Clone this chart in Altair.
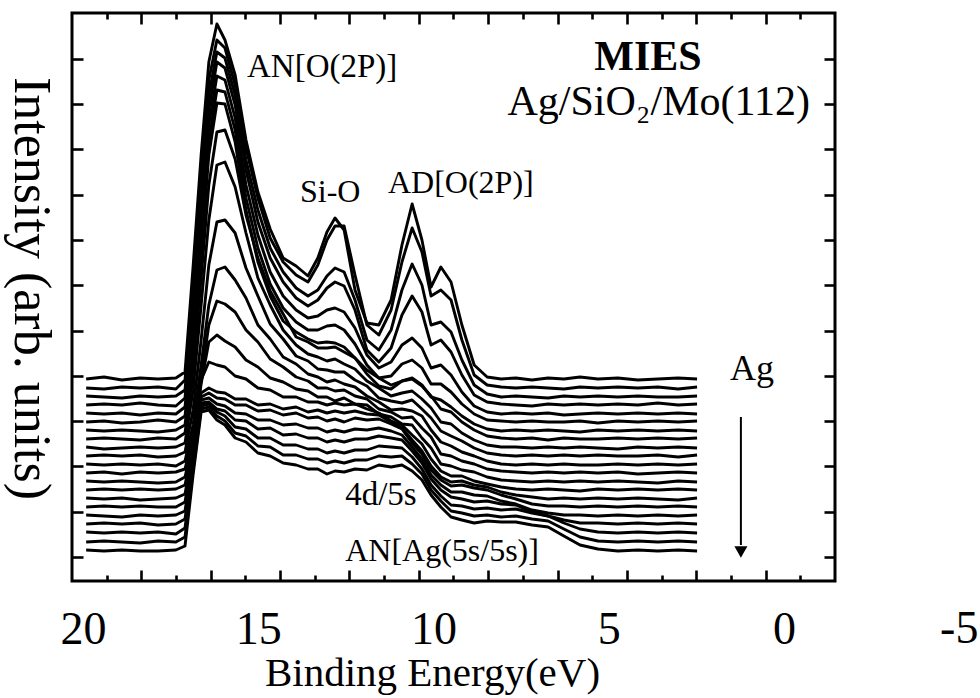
import altair as alt
import pandas as pd

# ---------------- data ----------------
# binding energy grid shared by all spectra (eV)
energy = [19.91, 19.40, 18.89, 18.37, 17.86, 17.35, 17.09, 16.86, 16.63, 16.41, 16.18, 15.95,
          15.66, 15.35, 15.01, 14.66, 14.29, 13.92, 13.58, 13.30, 13.04, 12.81, 12.55, 12.24,
          11.90, 11.56, 11.21, 10.90, 10.61, 10.33, 10.07, 9.79, 9.50, 9.19, 8.84, 8.47,
          8.07, 7.65, 7.19, 6.73, 6.28, 5.82, 5.31, 4.74, 4.17, 3.60, 3.02, 2.48]

# vertical offset of each spectrum (top = clean SiO2, bottom = most Ag)
offsets = [202, 193, 184, 176, 167, 159, 150, 142, 133, 125, 116,
           108, 99, 91, 82, 74, 65, 57, 48, 39, 30]

spec00 = [0, 2, -1, 1, 0, 1, 7, 112, 224, 317, 355, 339, 304, 239, 187, 150, 121, 113,
          103, 121, 147, 161, 149, 89, 56, 54, 79, 134, 175, 139, 92, 112, 97, 54, 14, 2,
          0, 1, -1, 1, 0, 2, 0, 1, -1, 0, 1, 0]
spec01 = [0, -1, 1, 0, 1, -1, 8, 103, 213, 308, 348, 340, 303, 240, 190, 150, 126, 113,
          106, 123, 148, 162, 162, 113, 63, 53, 78, 126, 160, 136, 92, 98, 88, 48, 13, 3,
          1, 0, 1, 0, -1, 1, 0, 1, 0, 1, -1, 1]
spec02 = [1, 0, -1, 1, 0, 1, 7, 97, 202, 302, 345, 339, 302, 237, 187, 149, 125, 109,
          101, 107, 121, 129, 125, 97, 57, 47, 67, 107, 133, 112, 72, 75, 65, 37, 12, 3,
          0, 1, 0, -1, 1, 0, 1, 0, 1, 0, 0, 1]
spec03 = [0, 1, 0, 2, 0, -1, 7, 93, 195, 295, 343, 337, 300, 235, 183, 147, 123, 107,
          99, 105, 117, 123, 119, 95, 55, 43, 57, 90, 109, 93, 60, 65, 53, 30, 10, 3,
          1, 0, -1, 1, 0, 1, 0, 1, 0, 2, 0, 1]
spec04 = [1, 0, 1, -1, 1, 0, 7, 89, 189, 289, 338, 334, 296, 229, 179, 142, 118, 104,
          96, 98, 104, 106, 102, 86, 59, 46, 52, 69, 76, 66, 46, 49, 39, 22, 8, 2,
          0, 1, 0, 1, -1, 0, 1, 0, 1, 0, 1, 0]
spec05 = [0, 1, -1, 0, 2, 0, 6, 82, 182, 282, 332, 330, 292, 224, 174, 138, 114, 100,
          92, 92, 96, 97, 92, 78, 57, 44, 46, 58, 62, 54, 38, 38, 30, 18, 8, 2,
          1, 0, 1, 0, 0, 1, -1, 1, 0, 1, 0, 1]
spec06 = [1, 0, 1, 0, -1, 1, 6, 76, 176, 276, 328, 327, 289, 221, 169, 135, 110, 99,
          92, 88, 89, 88, 84, 73, 57, 45, 42, 50, 53, 46, 34, 31, 24, 15, 7, 2,
          0, 1, 0, 1, 0, -1, 1, 0, 1, 0, 1, 0]
spec07 = [0, 1, 0, -1, 1, 0, 6, 67, 161, 254, 307, 309, 280, 224, 181, 148, 125, 102,
          97, 91, 91, 92, 87, 81, 69, 61, 54, 58, 60, 53, 43, 30, 27, 17, 9, 3,
          1, 0, 1, -1, 1, 0, 0, 1, 0, 1, 0, 1]
spec08 = [1, -1, 0, 1, 0, 1, 5, 58, 143, 228, 283, 286, 261, 215, 170, 143, 118, 103,
          94, 91, 87, 89, 84, 79, 67, 60, 52, 55, 57, 49, 40, 26, 24, 15, 8, 3,
          1, 1, 0, 1, 0, 1, 0, -1, 1, 0, 1, 0]
spec09 = [0, 1, 0, 1, -1, 0, 4, 46, 116, 191, 234, 236, 223, 188, 160, 132, 117, 100,
          95, 87, 86, 84, 84, 76, 70, 58, 55, 53, 56, 47, 38, 25, 20, 15, 8, 3,
          1, 0, 1, 0, 1, 0, 1, 0, 0, 1, -1, 1]
spec10 = [1, 0, 1, 0, 1, -1, 4, 40, 100, 160, 195, 198, 185, 167, 140, 126, 108, 101,
          91, 88, 83, 85, 81, 78, 69, 63, 55, 56, 54, 49, 35, 23, 19, 13, 9, 4,
          1, 0, 1, 0, 1, 0, 0, 1, 0, 1, 0, 1]
spec11 = [0, 1, -1, 1, 0, 1, 4, 38, 95, 148, 172, 169, 161, 143, 131, 114, 106, 96,
          92, 85, 85, 82, 83, 77, 74, 64, 61, 55, 56, 45, 36, 19, 17, 12, 9, 4,
          2, 1, 0, 1, 0, 1, 0, 1, -1, 0, 1, 0]
spec12 = [1, 0, 1, 0, -1, 0, 5, 40, 98, 140, 147, 141, 135, 122, 115, 104, 100, 93,
          91, 85, 85, 81, 84, 78, 77, 68, 65, 58, 57, 44, 34, 18, 16, 12, 10, 5,
          2, 1, 0, 1, 0, 1, 0, 1, 0, -1, 1, 0]
spec13 = [0, 1, 0, 1, 0, 1, 5, 45, 110, 128, 125, 123, 114, 111, 102, 100, 93, 93,
          88, 88, 85, 87, 85, 86, 81, 77, 69, 65, 55, 46, 31, 19, 14, 14, 9, 6,
          3, 1, 0, 1, 0, -1, 1, 0, 1, 0, 1, 0]
spec14 = [1, 0, 1, -1, 0, 1, 5, 50, 106, 111, 107, 106, 100, 100, 94, 95, 90, 92,
          87, 89, 86, 88, 86, 88, 85, 84, 77, 71, 59, 48, 33, 22, 17, 18, 14, 12,
          7, 4, 2, 0, 1, 0, 1, 0, 1, 0, -1, 1]
spec15 = [0, 1, 0, 1, 0, 0, 5, 55, 110, 114, 109, 108, 102, 102, 96, 97, 92, 94,
          89, 90, 86, 88, 85, 89, 87, 88, 83, 78, 64, 53, 37, 27, 21, 22, 19, 17,
          12, 8, 3, 1, 1, 0, 1, 0, 1, 0, 1, 0]
spec16 = [1, 0, -1, 1, 0, 1, 5, 60, 116, 118, 112, 110, 103, 102, 96, 96, 91, 92,
          88, 88, 84, 86, 84, 87, 86, 88, 85, 81, 69, 57, 41, 31, 24, 24, 21, 20,
          15, 12, 6, 3, 1, 1, 0, 1, 0, 1, 0, 1]
spec17 = [0, 1, 0, 1, -1, 0, 5, 64, 121, 122, 115, 113, 104, 103, 95, 96, 89, 90,
          86, 86, 82, 84, 82, 85, 85, 88, 86, 84, 73, 61, 45, 34, 27, 25, 22, 23,
          20, 19, 12, 8, 4, 1, 1, 0, 1, 0, 1, 0]
spec18 = [1, 0, 1, 0, 1, -1, 5, 68, 127, 129, 121, 117, 106, 104, 95, 95, 88, 88,
          84, 84, 80, 82, 80, 83, 83, 87, 86, 85, 76, 64, 48, 37, 28, 27, 24, 25,
          23, 24, 20, 17, 10, 4, 1, 0, 1, 0, 1, 0]
spec19 = [0, 1, 0, -1, 1, 0, 5, 72, 133, 135, 126, 121, 109, 106, 96, 95, 87, 87,
          83, 83, 79, 81, 79, 82, 82, 86, 85, 86, 78, 68, 52, 41, 31, 29, 26, 27,
          25, 26, 23, 21, 13, 5, 1, 0, 1, 0, 1, 0]
spec20 = [1, 0, 1, 0, 0, 1, 5, 76, 139, 141, 131, 126, 113, 109, 98, 95, 88, 86,
          82, 82, 77, 80, 79, 82, 81, 86, 84, 86, 80, 71, 56, 44, 34, 31, 28, 30,
          29, 29, 26, 24, 15, 6, 2, 0, 1, 0, 1, 0]

spectra = [spec00, spec01, spec02, spec03, spec04, spec05, spec06, spec07, spec08, spec09,
           spec10, spec11, spec12, spec13, spec14, spec15, spec16, spec17, spec18, spec19,
           spec20]

x_labels = [20, 15, 10, 5, 0]
x_label_outside = [-5]

ann_text = ["AN[O(2P)]", "Si-O", "AD[O(2P)]", "4d/5s", "AN[Ag(5s/5s)]", "Ag"]
ann_x = [15.32, 13.81, 11.30, 12.52, 12.52, 1.54]
ann_y = [504, 379, 388, 76, 20, 201]
ann_size = [33, 32, 32, 33, 32, 36]

title_text = ["MIES", "Ag/SiO\u2082/Mo(112)"]
title_x = [3.88, -0.74]
title_y = [511, 466]

arrow_x = 1.23
arrow_y = [164, 36]
arrow_head_y = 29

# ---------------- frame / scales ----------------
W, H = 763, 568
X_MIN, X_MAX = -1.455, 20.314
Y_MIN, Y_MAX = 0, 568
FONT = "Liberation Serif, Times New Roman, Times, DejaVu Serif, serif"

rows = []
for i, (off, spec) in enumerate(zip(offsets, spectra)):
    for e, v in zip(energy, spec):
        rows.append({"curve": i, "energy": e, "counts": off + v})
df = pd.DataFrame(rows)

xscale = alt.Scale(domain=[X_MIN, X_MAX], reverse=True, nice=False, zero=False)
yscale = alt.Scale(domain=[Y_MIN, Y_MAX], nice=False, zero=False)

# tick positions of the frame (22 equal intervals in x, 45.3-unit steps in y)
xt = [X_MAX - k * (X_MAX - X_MIN) / 22 for k in range(23)]
x_major = [xt[k] for k in range(2, 22, 2)]
x_minor = [xt[k] for k in range(1, 22, 2)]
y_ticks = [24 + 45.3 * k for k in range(12)]

LABEL_SIZE = 46

lines = alt.Chart(df).mark_line(color="black", strokeWidth=2.9, strokeJoin="round").encode(
    x=alt.X("energy:Q", scale=xscale,
            axis=alt.Axis(orient="bottom", values=x_labels, ticks=False, tickSize=0, domain=False,
                          grid=False, labelFont=FONT, labelFontSize=LABEL_SIZE,
                          labelColor="black", labelPadding=62, labelBaseline="alphabetic",
                          labelFlush=False, labelOverlap=False, title="Binding Energy(eV)",
                          titleFont=FONT, titleFontSize=41, titleFontWeight="normal",
                          titleColor="black", titleX=360, titleY=104, titleAlign="center",
                          titleBaseline="alphabetic")),
    y=alt.Y("counts:Q", scale=yscale,
            axis=alt.Axis(orient="left", labels=False, ticks=False, domain=False, grid=False,
                          title="Intensity (arb. units)", titleFont=FONT, titleFontSize=52,
                          titleFontWeight="normal", titleColor="black", titleAngle=90,
                          titleX=-42, titleY=275, titleAlign="center",
                          titleBaseline="middle")),
    detail="curve:N",
)


def tick_axis(vals, orient, offset, size):
    return alt.Axis(orient=orient, values=vals, offset=offset, ticks=True, tickSize=size,
                    tickWidth=2.6, tickColor="black", labels=False, domain=False, grid=False,
                    title=None)


def tick_layer(xaxis, yaxis):
    return alt.Chart(df).mark_point(opacity=0, size=1).encode(
        x=alt.X("energy:Q", scale=xscale, axis=xaxis, title=None),
        y=alt.Y("counts:Q", scale=yscale, axis=yaxis, title=None),
    )


t1 = tick_layer(tick_axis(x_major, "top", -H, 11), tick_axis(y_ticks, "right", -W, 11))
t2 = tick_layer(tick_axis(x_minor, "top", -H, 6), tick_axis(y_ticks, "left", -W, 11))
t3 = tick_layer(tick_axis(x_major, "bottom", -H, 11), None)
t4 = tick_layer(tick_axis(x_minor, "bottom", -H, 6), None)

# the "-5" tick label sits beyond the right end of the frame in the original
out_df = pd.DataFrame({"x": x_label_outside, "y": [-62] * len(x_label_outside),
                       "t": [str(v) for v in x_label_outside]})
out_label = alt.Chart(out_df).mark_text(font=FONT, fontSize=LABEL_SIZE, align="center",
                                        baseline="alphabetic", color="black").encode(
    x=alt.X("x:Q", scale=xscale, axis=None),
    y=alt.Y("y:Q", scale=yscale, axis=None),
    text="t:N",
)

ann_df = pd.DataFrame({"t": ann_text, "x": ann_x, "y": ann_y, "s": ann_size})
ann = alt.Chart(ann_df).mark_text(font=FONT, align="left", baseline="alphabetic",
                                  color="black").encode(
    x=alt.X("x:Q", scale=xscale, axis=None),
    y=alt.Y("y:Q", scale=yscale, axis=None),
    text="t:N",
    size=alt.Size("s:Q", scale=None),
)

ttl_df = pd.DataFrame({"t": title_text, "x": title_x, "y": title_y})
mies = alt.Chart(ttl_df.iloc[[0]]).mark_text(font=FONT, fontWeight="bold", fontSize=42,
                                              align="center", baseline="alphabetic",
                                              color="black").encode(
    x=alt.X("x:Q", scale=xscale, axis=None),
    y=alt.Y("y:Q", scale=yscale, axis=None),
    text="t:N",
)
sample = alt.Chart(ttl_df.iloc[[1]]).mark_text(font=FONT, fontSize=42, align="right",
                                                baseline="alphabetic", color="black").encode(
    x=alt.X("x:Q", scale=xscale, axis=None),
    y=alt.Y("y:Q", scale=yscale, axis=None),
    text="t:N",
)

arrow_df = pd.DataFrame({"x": [arrow_x], "y": [arrow_y[0]], "y2": [arrow_y[1]],
                         "yh": [arrow_head_y]})
shaft = alt.Chart(arrow_df).mark_rule(color="black", strokeWidth=2).encode(
    x=alt.X("x:Q", scale=xscale, axis=None),
    y=alt.Y("y:Q", scale=yscale, axis=None),
    y2="y2:Q",
)
head = alt.Chart(arrow_df).mark_point(shape="triangle-down", filled=True, color="black",
                                      size=170, opacity=1).encode(
    x=alt.X("x:Q", scale=xscale, axis=None),
    y=alt.Y("yh:Q", scale=yscale, axis=None),
)

chart = alt.layer(lines, t1, t2, t3, t4, out_label, ann, mies, sample, shaft, head).resolve_axis(
    x="independent", y="independent"
).properties(
    width=W, height=H,
    padding={"left": 72, "top": 13, "right": 980 - 72 - W, "bottom": 698 - 13 - H},
    autosize=alt.AutoSizeParams(type="none"),
    background="white",
).configure_view(stroke="black", strokeWidth=3)

chart.save("out.html", embed_options={"renderer": "svg", "actions": False})
